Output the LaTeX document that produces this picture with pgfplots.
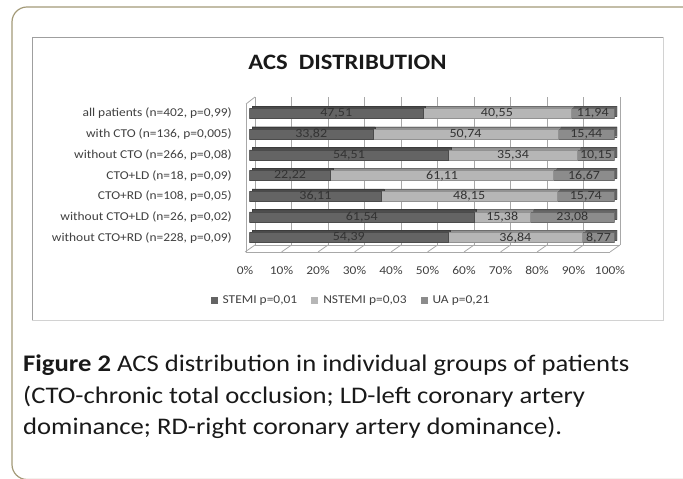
\documentclass[border=0pt]{standalone}
\usepackage{pgfplots}
\pgfplotsset{compat=1.18}
\usepackage{fontspec}
\setmainfont{Carlito}[FakeStretch=1.12]

\definecolor{framecol}{HTML}{A39A78}
\definecolor{stemi}{HTML}{646464}
\definecolor{nstemi}{HTML}{B6B6B6}
\definecolor{ua}{HTML}{8C8C8C}
\definecolor{wallcol}{HTML}{A8A8A8}
\definecolor{txt}{HTML}{404040}

\pgfplotsset{
  barax/.style={
    scale only axis, width=365pt, height=148pt,
    xmin=0, xmax=100, ymin=-0.546, ymax=6.604,
    axis line style={draw=none}, tick style={draw=none},
    major tick length=0pt,
  },
}

\begin{document}
\begin{tikzpicture}
\useasboundingbox (0,0) rectangle (683pt,479pt);
\begin{scope}
  \clip (0,0) rectangle (683pt,479pt);
  \draw[framecol, line width=1.2pt, rounded corners=15pt] (12pt,-0.5pt) rectangle (700pt,472pt);
\end{scope}

% chart box
\draw[gray!75, line width=0.9pt] (32pt,159pt) -- (32pt,442pt) -- (663pt,442pt);
\draw[gray!35, line width=0.9pt] (663pt,442pt) -- (663pt,159pt) -- (32pt,159pt);

\node[anchor=base, font=\fontsize{22}{26}\selectfont\bfseries, text=black!90] at (347.5pt,409pt) {ACS\ \ DISTRIBUTION};

% back wall grid
\begin{axis}[
  at={(255pt,234pt)}, anchor=south west,
  scale only axis, width=365pt, height=148pt,
  xmin=0, xmax=100, ymin=0, ymax=1,
  xtick={0,10,...,100}, ytick=\empty, xticklabels=\empty,
  axis line style={draw=none}, tick style={draw=none},
  xmajorgrids, grid style={wallcol, line width=0.8pt},
]
\end{axis}

% floor and left wall
\draw[wallcol, line width=0.8pt] (246pt,375pt) -- (246pt,227pt) -- (610pt,227pt);
\draw[wallcol, line width=0.8pt] (246pt,375pt) -- (255pt,382pt);
\draw[wallcol, line width=0.6pt] (255pt,234pt) -- (620pt,234pt);
\foreach \k in {0,...,10}
  \draw[wallcol, line width=0.8pt] (245pt+36.5pt*\k,227pt) -- ++(10pt,7pt);

% bar depth
\begin{axis}[barax, at={(252pt,232.5pt)}, anchor=south west,
  xbar stacked, bar width=10pt, xtick=\empty, ytick=\empty]
\addplot[fill=stemi!75!black, draw=stemi!60!black, line width=0.4pt] coordinates
  {(54.39,0) (61.54,1) (36.11,2) (22.22,3) (54.51,4) (33.82,5) (47.51,6)};
\addplot[fill=nstemi!80!black, draw=nstemi!60!black, line width=0.4pt] coordinates
  {(36.84,0) (15.38,1) (48.15,2) (61.11,3) (35.34,4) (50.74,5) (40.55,6)};
\addplot[fill=ua!70!black, draw=ua!55!black, line width=0.4pt] coordinates
  {(8.77,0) (23.08,1) (15.74,2) (16.67,3) (10.15,4) (15.44,5) (11.94,6)};
\end{axis}

% front bars
\begin{axis}[barax, at={(249.5pt,230pt)}, anchor=south west,
  xbar stacked, bar width=10pt,
  xtick={0,10,...,100},
  xticklabels={0\%,10\%,20\%,30\%,40\%,50\%,60\%,70\%,80\%,90\%,100\%},
  xticklabel style={anchor=center, xshift=-4.5pt, yshift=-21pt,
    font=\fontsize{12}{14}\selectfont, text=txt},
  ytick={0,...,6},
  yticklabels={without CTO+RD (n=228{,} p=0{,}09),
    without CTO+LD (n=26{,} p=0{,}02),
    CTO+RD (n=108{,} p=0{,}05),
    CTO+LD (n=18{,} p=0{,}09),
    without CTO (n=266{,} p=0{,}08),
    with CTO (n=136{,} p=0{,}005),
    all patients (n=402{,} p=0{,}99)},
  yticklabel style={anchor=east, inner sep=0pt, xshift=-17.5pt,
    font=\fontsize{12}{14}\selectfont, text=txt},
  legend columns=3,
  legend style={at={(0.278,-0.345)}, anchor=center, draw=none, fill=none,
    font=\fontsize{12}{14}\selectfont, text=txt,
    /tikz/every even column/.append style={column sep=12pt}},
  legend image code/.code={\fill[#1, draw=none] (0pt,-3.5pt) rectangle (7pt,3.5pt);
    \path[draw=none, fill=none] (0pt,0pt) rectangle (10pt,0.1pt);},
]
\addplot[fill=stemi, draw=stemi!75!black, line width=0.4pt] coordinates
  {(54.39,0) (61.54,1) (36.11,2) (22.22,3) (54.51,4) (33.82,5) (47.51,6)};
\addlegendentry{STEMI p=0,01}
\addplot[fill=nstemi, draw=nstemi!80!black, line width=0.4pt] coordinates
  {(36.84,0) (15.38,1) (48.15,2) (61.11,3) (35.34,4) (50.74,5) (40.55,6)};
\addlegendentry{NSTEMI p=0,03}
\addplot[fill=ua, draw=ua!75!black, line width=0.4pt] coordinates
  {(8.77,0) (23.08,1) (15.74,2) (16.67,3) (10.15,4) (15.44,5) (11.94,6)};
\addlegendentry{UA p=0,21}
\end{axis}

% value labels, centred on each segment
\begin{axis}[barax, at={(249.5pt,230pt)}, anchor=south west,
  xtick=\empty, ytick=\empty,
  point meta=explicit,
  /pgf/number format/assume math mode=true,
  nodes near coords={\pgfmathprintnumber[fixed,precision=2,zerofill,use comma]{\pgfplotspointmeta}},
  every node near coord/.append style={anchor=center, inner sep=0pt,
    font=\fontsize{12.5}{14}\selectfont, text=black!80},
]
\addplot[draw=none, mark=none] coordinates
  {(27.195,0) [54.39] (30.77,1) [61.54] (18.055,2) [36.11] (11.11,3) [22.22]
   (27.255,4) [54.51] (16.91,5) [33.82] (23.755,6) [47.51]};
\addplot[draw=none, mark=none] coordinates
  {(72.81,0) [36.84] (69.23,1) [15.38] (60.185,2) [48.15] (52.775,3) [61.11]
   (72.18,4) [35.34] (59.19,5) [50.74] (67.785,6) [40.55]};
\addplot[draw=none, mark=none] coordinates
  {(95.615,0) [8.77] (88.46,1) [23.08] (92.13,2) [15.74] (91.665,3) [16.67]
   (94.925,4) [10.15] (92.28,5) [15.44] (94.03,6) [11.94]};
\end{axis}

% caption
\begin{scope}[every node/.style={anchor=base west, inner sep=0pt,
    font=\fontsize{23.8}{31.5}\selectfont, text=black!90}]
\node at (23pt,107pt) {\textbf{Figure 2} ACS distribution in individual groups of patients};
\node at (23pt,75.5pt) {(CTO-chronic total occlusion; LD-left coronary artery};
\node at (23pt,44pt) {dominance; RD-right coronary artery dominance).};
\end{scope}
\end{tikzpicture}
\end{document}
